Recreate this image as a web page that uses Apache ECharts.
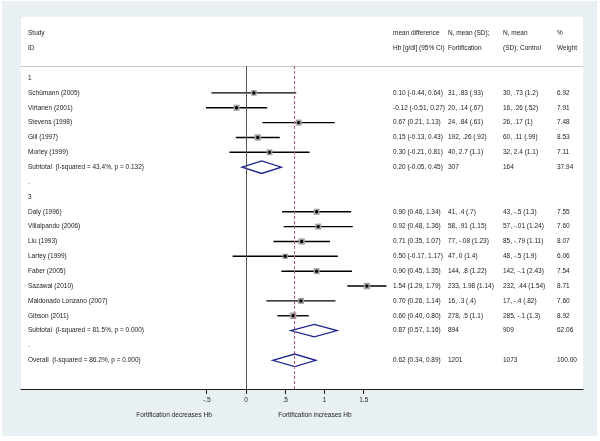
<!DOCTYPE html>
<html>
<head>
<meta charset="utf-8">
<script src="https://cdn.jsdelivr.net/npm/echarts@6/dist/echarts.min.js"></script>
<style>
html,body{margin:0;padding:0;background:#ffffff;}
#chart{width:600px;height:441px;}
</style>
</head>
<body>
<div id="chart"></div>
<script>
// ---- data ----
const rowLabels = [
  "1",
  "Schümann (2005)",
  "Virtanen (2001)",
  "Stevens (1998)",
  "Gill (1997)",
  "Morley (1999)",
  "Subtotal  (I-squared = 43.4%, p = 0.132)",
  ".",
  "3",
  "Daly (1996)",
  "Villalpando (2006)",
  "Liu (1993)",
  "Lartey (1999)",
  "Faber (2005)",
  "Sazawal (2010)",
  "Maldonado Lonzano (2007)",
  "Gibson (2011)",
  "Subtotal  (I-squared = 81.5%, p = 0.000)",
  ".",
  "Overall  (I-squared = 86.2%, p = 0.000)"
];
const rowKind = ["group","study","study","study","study","study","pooled","blank","group",
  "study","study","study","study","study","study","study","study","pooled","blank","pooled"];
const estimate = [null,0.10,-0.12,0.67,0.15,0.30,0.20,null,null,0.90,0.92,0.71,0.50,0.90,1.54,0.70,0.60,0.87,null,0.62];
const ciLow    = [null,-0.44,-0.51,0.21,-0.13,-0.21,-0.05,null,null,0.46,0.48,0.35,-0.17,0.45,1.29,0.26,0.40,0.57,null,0.34];
const ciHigh   = [null,0.64,0.27,1.13,0.43,0.81,0.45,null,null,1.34,1.36,1.07,1.17,1.35,1.79,1.14,0.80,1.16,null,0.89];
const fortification = ["","31, .83 (.93)","20, .14 (.67)","24, .84 (.61)","192, .26 (.92)","40, 2.7 (1.1)","307","","",
  "41, .4 (.7)","58, .91 (1.15)","77, -.08 (1.23)","47, 0 (1.4)","144, .8 (1.22)","233, 1.98 (1.14)","16, .3 (.4)","278, .5 (1.1)","894","","1201"];
const control = ["","30, .73 (1.2)","16, .26 (.52)","26, .17 (1)","60, .11 (.99)","32, 2.4 (1.1)","164","","",
  "43, -.5 (1.3)","57, -.01 (1.24)","85, -.79 (1.11)","48, -.5 (1.9)","142, -.1 (2.43)","232, .44 (1.54)","17, -.4 (.82)","285, -.1 (1.3)","909","","1073"];
const weight = [null,6.92,7.91,7.48,8.53,7.11,37.94,null,null,7.55,7.60,8.07,6.06,7.54,8.71,7.60,8.92,62.06,null,100.00];
const tickValues = [-0.5, 0, 0.5, 1, 1.5];
const tickLabels = ["-.5", "0", ".5", "1", "1.5"];
const overallEstimate = 0.62;

// ---- build ----
const FONT = "Liberation Sans";
const FS = 6.5;
const TXT = "#222222";
const colX = [28, 393, 448, 503, 557];

const studyData = [];
const pooledData = [];
const textData = [];
rowLabels.forEach((lab, i) => {
  textData.push([0, i]);
  if (rowKind[i] === "study") studyData.push([estimate[i], i, ciLow[i], ciHigh[i], weight[i]]);
  if (rowKind[i] === "pooled") pooledData.push([estimate[i], i, ciLow[i], ciHigh[i]]);
});

function fmt(v){ return v.toFixed(2); }

const chart = echarts.init(document.getElementById('chart'), null, {renderer: 'canvas'});
const option = {
  animation: false,
  backgroundColor: '#ffffff',
  graphic: [
    {type:'rect', z:-100, shape:{x:2, y:1, width:595, height:435}, style:{fill:'#e9f0f3'}},
    {type:'rect', z:-99, shape:{x:21, y:17, width:562, height:372}, style:{fill:'#ffffff'}},
    ...[["Study","ID",0],["mean difference","Hb [g/dl] (95% CI)",1],["N, mean (SD);","Fortification",2],
        ["N, mean","(SD); Control",3],["%","Weight",4]].flatMap(h => [
      {type:'text', z:100, x:colX[h[2]], y:33, style:{text:h[0], fill:TXT, fontSize:FS, fontFamily:FONT, verticalAlign:'middle'}},
      {type:'text', z:100, x:colX[h[2]], y:48, style:{text:h[1], fill:TXT, fontSize:FS, fontFamily:FONT, verticalAlign:'middle'}}
    ]),
    {type:'text', z:100, x:174, y:415, style:{text:"Fortification decreases Hb", fill:TXT, fontSize:FS, fontFamily:FONT, align:'center', verticalAlign:'middle'}},
    {type:'text', z:100, x:315, y:415, style:{text:"Fortification increases Hb", fill:TXT, fontSize:FS, fontFamily:FONT, align:'center', verticalAlign:'middle'}}
  ],
  grid: {left:21, right:17, top:66, bottom:52, containLabel:false},
  xAxis: [
    {
      type:'value', position:'bottom', min:-2.866, max:4.293,
      splitLine:{show:false},
      axisLine:{show:true, onZero:false, lineStyle:{color:'#1a1a1a', width:1.2}},
      axisTick:{show:true, customValues:tickValues, length:5, lineStyle:{color:'#1a1a1a', width:1}},
      axisLabel:{show:true, customValues:tickValues, margin:8, fontSize:FS, fontFamily:FONT, color:TXT,
        formatter:function(v){ const k = tickValues.findIndex(t => Math.abs(t - v) < 1e-9); return k >= 0 ? tickLabels[k] : ''; }}
    },
    {
      type:'value', position:'top', min:-2.866, max:4.293,
      splitLine:{show:false},
      axisLine:{show:true, onZero:false, lineStyle:{color:'#c8c8c8', width:1}},
      axisTick:{show:false}, axisLabel:{show:false}
    }
  ],
  yAxis: {type:'value', inverse:true, min:-0.81, max:20.93, show:false},
  series: [
    {
      type:'line', data:[], z:1, silent:true,
      markLine:{
        silent:true, symbol:'none', label:{show:false},
        data:[
          {xAxis:0, lineStyle:{color:'#555555', type:'solid', width:1}},
          {xAxis:overallEstimate, lineStyle:{color:'#c25a6e', type:[3,2], width:1}}
        ]
      }
    },
    {
      type:'custom', z:3, clip:false, data:studyData, encode:{x:0, y:1},
      renderItem:function(params, api){
        const y = api.value(1);
        const p = api.coord([api.value(0), y]);
        const l = api.coord([api.value(2), y]);
        const h = api.coord([api.value(3), y]);
        const s = Math.sqrt(api.value(4)) * 2.2;
        return {type:'group', children:[
          {type:'line', shape:{x1:l[0], y1:p[1], x2:h[0], y2:p[1]}, style:{stroke:'#000000', lineWidth:1.4}},
          {type:'rect', shape:{x:p[0]-s/2, y:p[1]-s/2, width:s, height:s}, style:{fill:'#a4a4a4'}},
          {type:'circle', shape:{cx:p[0], cy:p[1], r:1.7}, style:{fill:'#000000'}}
        ]};
      }
    },
    {
      type:'custom', z:3, clip:false, data:pooledData, encode:{x:0, y:1},
      renderItem:function(params, api){
        const y = api.value(1);
        const p = api.coord([api.value(0), y]);
        const l = api.coord([api.value(2), y]);
        const h = api.coord([api.value(3), y]);
        const dh = 6.3;
        return {type:'polygon', shape:{points:[[l[0],p[1]],[p[0],p[1]-dh],[h[0],p[1]],[p[0],p[1]+dh]]},
          style:{fill:'#ffffff', stroke:'#1c2490', lineWidth:1.3}};
      }
    },
    {
      type:'custom', z:4, clip:false, data:textData, encode:{x:0, y:1},
      renderItem:function(params, api){
        const i = params.dataIndex;
        const yy = api.coord([0, api.value(1)])[1];
        const cols = [rowLabels[i]];
        if (estimate[i] !== null) {
          cols.push(fmt(estimate[i]) + " (" + fmt(ciLow[i]) + ", " + fmt(ciHigh[i]) + ")");
          cols.push(fortification[i]);
          cols.push(control[i]);
          cols.push(fmt(weight[i]));
        }
        return {type:'group', children: cols.map((t, c) => ({
          type:'text', x:colX[c], y:yy,
          style:{text:t, fill:TXT, fontSize:FS, fontFamily:FONT, verticalAlign:'middle', align:'left'}
        }))};
      }
    }
  ]
};
chart.setOption(option);
</script>
</body>
</html>
